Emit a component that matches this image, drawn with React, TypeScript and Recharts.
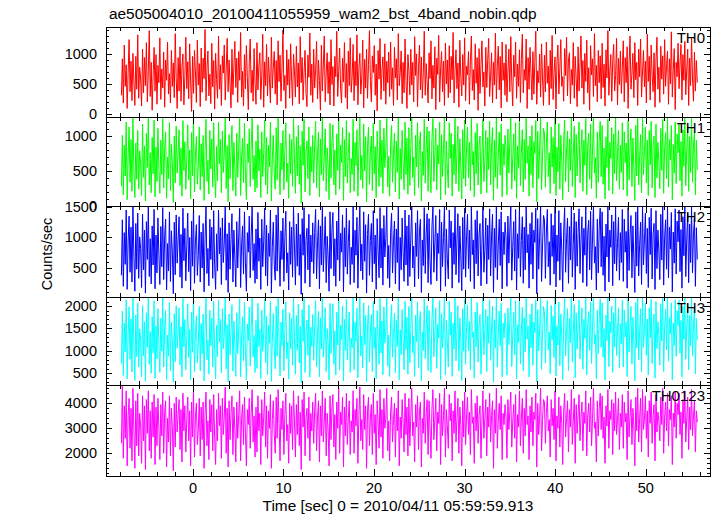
import { LineChart, Line, XAxis, YAxis } from "recharts";

const FONT = '"Liberation Sans", Arial, Helvetica, sans-serif';

const TITLE = "ae505004010_20100411055959_wam2_bst_4band_nobin.qdp";
const X_LABEL = "Time [sec] 0 = 2010/04/11 05:59:59.913";
const Y_LABEL = "Counts/sec";

// time span of the light curve (sec), bins evenly spaced
const T_FIRST = -7.9;
const T_LAST = 55.7;

const X_TICKS = [
  -8, -6, -4, -2, 0, 2, 4, 6, 8, 10, 12, 14, 16, 18, 20, 22, 24, 26, 28, 30, 32,
  34, 36, 38, 40, 42, 44, 46, 48, 50, 52, 54, 56,
];

const TH0 = [
  310, 920, 180, 1150, 460, 820, 90, 690, 1240, 370, 880, 220, 1010, 540, 140, 960, 410, 1320, 260, 780,
  600, 130, 1080, 350, 940, 470, 1190, 200, 720, 1390, 290, 860, 60, 640, 1110, 380, 990, 160, 810, 520,
  1270, 240, 750, 430, 1030, 110, 900, 560, 1200, 330, 670, 180, 1060, 460, 850, 270, 1340, 610, 90, 940,
  380, 1120, 210, 790, 1000, 150, 620, 1280, 420, 870, 250, 1170, 530, 40, 960, 340, 1060, 700, 190, 1230,
  480, 840, 120, 1100, 360, 930, 590, 1410, 220, 760, 1050, 300, 660, 170, 1180, 450, 890, 80, 1010, 570,
  260, 1300, 410, 820, 140, 970, 680, 1150, 230, 740, 1260, 370, 900, 500, 100, 1080, 320, 790, 1210, 440,
  930, 190, 1040, 560, 1360, 280, 710, 130, 990, 420, 1140, 610, 70, 860, 1250, 350, 730, 210, 1090, 520,
  160, 1190, 400, 800, 1020, 240, 650, 1330, 110, 870, 470, 1160, 300, 950, 580, 180, 1280, 430, 770, 1040,
  330, 890, 150, 1220, 540, 980, 210, 760, 1400, 390, 640, 90, 1070, 480, 910, 260, 1170, 600, 140, 1000,
  720, 280, 1130, 450, 850, 170, 1290, 520, 940, 230, 690, 1060, 360, 120, 980, 610, 1350, 310, 830, 190,
  1080, 430, 740, 1210, 250, 900, 560, 60, 1150, 380, 800, 1300, 200, 680, 1020, 340, 870, 150, 1240, 490,
  790, 130, 960, 620, 1380, 290, 710, 1100, 410, 180, 930, 530, 1190, 270, 840, 80, 1050, 470, 1270, 360,
  620, 1160, 220, 880, 470, 1320, 150, 750, 1010, 330, 600, 1230, 100, 910, 430, 1080, 260, 820, 1390, 540,
  200, 970, 690, 1140, 310, 830, 50, 1060, 580, 1260, 240, 730, 950, 380, 1170, 160, 880, 520, 1030, 290,
  1200, 410, 770, 140, 1110, 600, 920, 230, 1340, 470, 690, 1050, 170, 860, 350, 1250, 560, 90, 990, 720,
  320, 1080, 480, 860, 200, 1290, 640, 1000, 120, 770, 1150, 400, 950, 260, 680, 1380, 310, 840, 540, 180,
  1020, 590, 1220, 250, 810, 430, 1120, 70, 930, 660, 1310, 200, 750, 1040, 370, 880, 140, 1180, 500, 900,
  270, 1140, 350, 960, 570, 1360, 180, 710, 1070, 420, 850, 110, 1230, 620, 300, 990, 480, 1270, 220, 800,
  650, 1040, 160, 880, 1300, 390, 740, 230, 1170, 510, 940, 60, 1090, 340, 820, 1220, 450, 700, 130, 1110,
  440, 910, 1260, 290, 630, 1020, 180, 860, 480, 1350, 250, 790, 1130, 400, 960, 100, 1200, 560, 850, 310,
  1160, 200, 700, 1080, 370, 1290, 540, 130, 980, 620, 1200, 260, 830, 460, 1070, 190, 910, 1330, 350, 740,
  560, 1250, 90, 940, 410, 1110, 690, 230, 1040, 330, 880, 1380, 160, 720, 520, 1000, 280, 1170, 600, 140,
  980, 370, 1200, 510, 800, 150, 1060, 420, 1310, 240, 690, 950, 80, 870, 1150, 330, 760, 1240, 460, 620,
  210, 1090, 640, 1280, 300, 900, 1020, 170, 740, 480, 1190, 260, 960, 590, 120, 1120, 380, 830, 1300, 430,
  890, 160, 1010, 540, 1230, 350, 770, 60, 1140, 650, 920, 290, 1340, 470, 810, 200, 1060, 520, 970, 250,
  1180, 440, 830, 130, 1070, 600, 1390, 310, 720, 990, 210, 880, 1160, 380, 640, 1260, 150, 930, 490, 1050,
  340, 760, 1220, 200, 940, 520, 1120, 90, 830, 1300, 410, 680, 1010, 270, 1190, 570, 860, 140, 1080, 620,
  1250, 280, 700, 1060, 450, 880, 180, 1330, 540, 960, 230, 1150, 640, 370, 1020, 110, 900, 1280, 410, 780,
  190, 1130, 580, 970, 330, 1240, 460, 800, 1050, 160, 920, 500, 1370, 280, 740, 1090, 70, 860, 620, 1180,
  420, 850, 1160, 230, 990, 560, 1210, 320, 760, 1080, 140, 930, 470, 1270, 600, 210, 1030, 380, 890, 520,
];

const TH1 = [
  280, 1010, 160, 870, 430, 1200, 90, 720, 1130, 340, 950, 210, 1260, 500, 120, 900, 380, 1080, 240, 790,
  620, 150, 1170, 410, 860, 70, 1040, 550, 1270, 300, 760, 190, 980, 460, 1230, 130, 840, 350, 1110, 520,
  180, 940, 450, 1250, 260, 810, 1060, 110, 700, 390, 1190, 220, 880, 600, 50, 1000, 330, 1140, 470, 760,
  1090, 290, 830, 140, 1220, 510, 920, 240, 680, 1160, 370, 800, 100, 1050, 430, 1270, 200, 730, 990, 310,
  570, 1130, 230, 890, 420, 1010, 80, 770, 1240, 350, 650, 170, 1080, 530, 960, 270, 1190, 440, 120, 850,
  360, 1200, 600, 950, 190, 1070, 480, 740, 1270, 250, 860, 60, 1020, 390, 780, 1150, 220, 910, 540, 140,
  1040, 410, 820, 1250, 150, 700, 970, 330, 1180, 480, 90, 890, 620, 1100, 280, 830, 1270, 380, 720, 200,
  930, 260, 1160, 500, 810, 120, 1060, 420, 760, 1230, 300, 980, 170, 870, 560, 1200, 70, 690, 1010, 450,
  240, 1120, 370, 1270, 630, 160, 900, 520, 1080, 230, 810, 1190, 340, 610, 110, 1030, 460, 950, 280, 1250,
  700, 180, 990, 430, 1150, 310, 860, 40, 1070, 580, 1240, 200, 770, 930, 390, 1130, 150, 850, 490, 1010,
  330, 880, 1210, 260, 740, 1060, 130, 960, 450, 1270, 360, 690, 1100, 210, 830, 570, 90, 1180, 400, 920,
  1160, 300, 800, 160, 1030, 510, 1260, 240, 870, 620, 1120, 80, 950, 420, 1220, 330, 750, 1050, 190, 680,
  450, 1240, 210, 910, 580, 1090, 140, 820, 1270, 370, 720, 250, 1170, 500, 990, 60, 860, 1130, 310, 770,
  1000, 220, 1180, 460, 850, 120, 1070, 640, 280, 1230, 410, 940, 180, 1110, 550, 800, 1270, 270, 710, 140,
  880, 1150, 340, 760, 1040, 200, 930, 480, 1260, 100, 820, 380, 1080, 620, 230, 1200, 450, 970, 170, 1120,
  290, 830, 1270, 410, 700, 150, 1010, 560, 1190, 260, 900, 1060, 70, 780, 440, 1240, 330, 860, 1130, 210,
  1070, 500, 190, 960, 1250, 350, 740, 1110, 230, 870, 600, 1200, 90, 1020, 420, 810, 1270, 160, 930, 530,
  260, 1190, 680, 1040, 140, 880, 450, 1260, 320, 790, 1140, 210, 960, 570, 100, 1090, 390, 1230, 280, 840,
  1130, 400, 910, 220, 1270, 590, 780, 130, 1050, 460, 1180, 300, 870, 1000, 170, 730, 1240, 350, 640, 1080,
  190, 980, 520, 1210, 300, 850, 1120, 80, 940, 410, 1270, 250, 720, 1060, 440, 1170, 130, 890, 580, 1010,
  820, 160, 1100, 470, 930, 1260, 240, 680, 1030, 360, 1190, 110, 860, 540, 1230, 290, 770, 1090, 200, 950,
  380, 1270, 610, 860, 140, 1000, 450, 1150, 260, 920, 750, 1220, 60, 1070, 390, 830, 1260, 230, 700, 1110,
  1050, 270, 890, 1200, 420, 760, 180, 1130, 560, 980, 320, 1270, 150, 840, 490, 1180, 240, 1010, 640, 90,
  910, 1230, 350, 800, 1070, 200, 960, 510, 1260, 280, 730, 1140, 120, 1020, 430, 880, 1200, 330, 780, 1090,
  210, 940, 580, 1250, 160, 870, 1040, 380, 1170, 250, 800, 1270, 470, 690, 110, 1060, 340, 950, 1210, 420,
  1150, 310, 830, 100, 990, 550, 1240, 220, 910, 680, 1120, 170, 1030, 460, 1270, 360, 750, 1080, 240, 870,
  480, 1190, 230, 1060, 620, 900, 140, 1220, 370, 840, 1100, 280, 970, 530, 80, 1150, 430, 1260, 300, 720,
  1020, 190, 1270, 450, 780, 1130, 330, 940, 150, 1080, 590, 1210, 260, 860, 1000, 120, 1170, 400, 910, 630,
  250, 1110, 510, 1240, 180, 820, 1050, 390, 1270, 270, 950, 660, 1150, 90, 880, 470, 1200, 320, 1030, 760,
  1180, 360, 920, 140, 1090, 570, 1250, 290, 810, 1130, 210, 990, 480, 1270, 340, 860, 1060, 160, 940, 520,
];

const TH2 = [
  380, 1290, 200, 1080, 560, 1450, 150, 940, 1350, 430, 1170, 270, 1510, 690, 120, 1230, 480, 1400, 330, 1010,
  820, 180, 1380, 470, 1120, 90, 1260, 640, 1510, 360, 980, 240, 1190, 550, 1460, 160, 1040, 420, 1320, 700,
  230, 1180, 520, 1490, 310, 1030, 1300, 140, 900, 450, 1420, 280, 1110, 760, 80, 1250, 390, 1370, 580, 960,
  1340, 350, 1050, 170, 1480, 620, 1150, 290, 870, 1400, 440, 1000, 130, 1270, 530, 1510, 250, 930, 1210, 380,
  700, 1360, 270, 1090, 500, 1230, 110, 980, 1500, 410, 820, 210, 1300, 640, 1170, 330, 1440, 540, 150, 1060,
  450, 1450, 730, 1160, 230, 1320, 590, 910, 1510, 300, 1060, 100, 1240, 480, 970, 1390, 270, 1120, 650, 190,
  1260, 500, 1010, 1480, 180, 880, 1190, 400, 1420, 580, 120, 1080, 760, 1350, 340, 1030, 1510, 460, 900, 250,
  1140, 320, 1410, 610, 990, 150, 1300, 520, 940, 1480, 370, 1200, 210, 1070, 690, 1450, 90, 850, 1250, 550,
  300, 1370, 450, 1510, 780, 200, 1110, 640, 1320, 280, 1000, 1430, 420, 750, 140, 1260, 560, 1170, 350, 1500,
  860, 220, 1220, 530, 1400, 380, 1050, 70, 1310, 710, 1490, 250, 950, 1150, 470, 1380, 190, 1040, 600, 1240,
  410, 1080, 1460, 320, 910, 1290, 160, 1190, 550, 1510, 440, 850, 1340, 260, 1020, 700, 120, 1420, 490, 1130,
  1410, 370, 980, 200, 1270, 630, 1500, 290, 1070, 760, 1370, 110, 1160, 520, 1480, 400, 920, 1280, 230, 840,
  560, 1500, 260, 1120, 710, 1330, 170, 1010, 1510, 450, 890, 310, 1420, 610, 1210, 90, 1050, 1380, 380, 950,
  1230, 270, 1440, 570, 1040, 150, 1310, 790, 340, 1490, 500, 1150, 220, 1360, 680, 980, 1510, 330, 870, 180,
  1080, 1400, 420, 930, 1270, 240, 1140, 590, 1510, 130, 1000, 470, 1320, 760, 280, 1450, 550, 1190, 210, 1370,
  360, 1020, 1510, 500, 860, 190, 1240, 690, 1440, 320, 1110, 1300, 100, 960, 540, 1490, 410, 1060, 1390, 260,
  1310, 620, 230, 1180, 1500, 430, 910, 1360, 290, 1070, 740, 1460, 120, 1250, 520, 1000, 1510, 200, 1140, 650,
  320, 1450, 830, 1270, 170, 1080, 560, 1510, 390, 970, 1390, 260, 1190, 700, 130, 1330, 480, 1480, 350, 1030,
  1380, 490, 1120, 280, 1510, 720, 960, 160, 1290, 570, 1440, 370, 1060, 1230, 210, 900, 1500, 430, 790, 1320,
  240, 1200, 640, 1470, 370, 1040, 1380, 100, 1150, 510, 1510, 310, 890, 1300, 540, 1420, 160, 1090, 720, 1250,
  1010, 200, 1350, 580, 1140, 1500, 300, 840, 1260, 450, 1460, 140, 1060, 660, 1490, 360, 950, 1340, 250, 1170,
  470, 1510, 750, 1050, 170, 1230, 560, 1410, 320, 1120, 920, 1480, 80, 1310, 480, 1020, 1500, 280, 860, 1360,
  1290, 330, 1090, 1460, 520, 930, 220, 1390, 690, 1200, 400, 1510, 190, 1040, 610, 1440, 300, 1240, 790, 110,
  1110, 1490, 430, 980, 1320, 250, 1180, 630, 1510, 350, 900, 1400, 150, 1260, 530, 1080, 1470, 410, 960, 1340,
  260, 1150, 710, 1500, 200, 1070, 1280, 470, 1430, 310, 990, 1510, 580, 850, 140, 1300, 420, 1170, 1480, 520,
  1420, 380, 1020, 120, 1220, 680, 1510, 270, 1120, 840, 1370, 210, 1260, 570, 1500, 450, 920, 1330, 300, 1080,
  590, 1460, 280, 1300, 760, 1100, 170, 1490, 460, 1030, 1360, 340, 1190, 650, 100, 1420, 530, 1510, 370, 890,
  1250, 230, 1510, 550, 960, 1400, 410, 1150, 180, 1330, 720, 1480, 320, 1060, 1230, 150, 1440, 490, 1120, 780,
  310, 1380, 630, 1510, 220, 1010, 1290, 480, 1500, 340, 1170, 810, 1410, 110, 1090, 580, 1470, 400, 1270, 930,
  1450, 440, 1130, 170, 1340, 700, 1510, 360, 990, 1390, 260, 1220, 590, 1500, 420, 1060, 1310, 200, 1160, 640,
];

const TH3 = [
  720, 1890, 450, 1620, 980, 2140, 380, 1370, 1980, 810, 1710, 530, 2200, 1100, 340, 1800, 870, 2060, 640, 1490,
  1250, 420, 2010, 890, 1650, 320, 1850, 1080, 2200, 700, 1430, 500, 1760, 960, 2120, 390, 1560, 820, 1940, 1150,
  520, 1730, 990, 2180, 640, 1520, 1900, 360, 1350, 880, 2080, 560, 1640, 1200, 300, 1830, 760, 2010, 1060, 1420,
  1960, 690, 1540, 420, 2170, 1090, 1700, 580, 1290, 2050, 850, 1480, 350, 1860, 970, 2200, 530, 1380, 1780, 740,
  1160, 1990, 560, 1610, 930, 1820, 330, 1450, 2190, 800, 1240, 480, 1900, 1110, 1730, 640, 2100, 1000, 380, 1570,
  870, 2130, 1200, 1700, 510, 1940, 1050, 1360, 2200, 600, 1580, 310, 1820, 920, 1440, 2030, 550, 1660, 1120, 430,
  1850, 940, 1480, 2160, 420, 1310, 1760, 780, 2080, 1030, 350, 1600, 1230, 1980, 660, 1520, 2200, 860, 1340, 520,
  1680, 610, 2060, 1100, 1470, 380, 1910, 990, 1390, 2150, 740, 1770, 470, 1570, 1170, 2110, 320, 1280, 1830, 1020,
  600, 2000, 880, 2200, 1260, 440, 1640, 1120, 1930, 560, 1490, 2090, 830, 1190, 370, 1850, 1050, 1720, 680, 2180,
  1320, 480, 1790, 1010, 2040, 730, 1550, 290, 1920, 1210, 2170, 520, 1400, 1690, 900, 2020, 410, 1530, 1100, 1810,
  790, 1580, 2120, 650, 1370, 1880, 420, 1740, 1040, 2200, 860, 1290, 1960, 540, 1500, 1180, 350, 2060, 940, 1650,
  2050, 700, 1450, 460, 1860, 1130, 2190, 570, 1570, 1250, 2000, 330, 1700, 1010, 2150, 800, 1380, 1870, 520, 1280,
  1070, 2180, 580, 1640, 1210, 1950, 400, 1480, 2200, 890, 1330, 620, 2070, 1140, 1790, 310, 1560, 2010, 760, 1420,
  1810, 540, 2100, 1060, 1520, 380, 1900, 1290, 700, 2170, 950, 1670, 470, 1980, 1170, 1440, 2200, 660, 1350, 430,
  1600, 2030, 860, 1390, 1840, 510, 1680, 1100, 2200, 360, 1470, 920, 1920, 1250, 580, 2110, 1030, 1750, 480, 1990,
  740, 1500, 2200, 960, 1330, 430, 1800, 1200, 2090, 620, 1640, 1880, 330, 1420, 1010, 2160, 830, 1550, 2010, 560,
  1900, 1140, 520, 1720, 2180, 870, 1400, 1960, 610, 1590, 1290, 2120, 360, 1830, 1060, 1480, 2200, 470, 1680, 1210,
  640, 2110, 1350, 1860, 430, 1620, 1040, 2200, 780, 1450, 2010, 550, 1730, 1260, 340, 1940, 990, 2150, 700, 1530,
  2020, 1000, 1660, 580, 2200, 1300, 1420, 390, 1870, 1090, 2080, 750, 1570, 1810, 480, 1360, 2190, 910, 1480, 1920,
  540, 1770, 1170, 2140, 790, 1510, 2000, 300, 1690, 1060, 2200, 640, 1380, 1890, 1110, 2060, 420, 1620, 1290, 1840,
  1490, 460, 1950, 1140, 1700, 2180, 650, 1330, 1860, 920, 2120, 380, 1580, 1190, 2170, 710, 1430, 1970, 560, 1740,
  980, 2200, 1260, 1550, 420, 1820, 1070, 2050, 680, 1640, 1410, 2140, 310, 1920, 1000, 1500, 2200, 590, 1350, 1990,
  1880, 730, 1610, 2120, 1020, 1420, 490, 2010, 1250, 1780, 850, 2200, 440, 1560, 1130, 2090, 670, 1820, 1330, 360,
  1680, 2170, 890, 1470, 1940, 560, 1730, 1180, 2200, 760, 1390, 2030, 400, 1850, 1040, 1600, 2130, 820, 1450, 1960,
  590, 1700, 1280, 2190, 470, 1590, 1880, 1010, 2090, 720, 1520, 2200, 1150, 1360, 380, 1910, 940, 1740, 2150, 1080,
  2070, 860, 1500, 350, 1800, 1230, 2200, 650, 1660, 1400, 2000, 520, 1850, 1090, 2180, 900, 1450, 1960, 620, 1610,
  1160, 2130, 640, 1910, 1310, 1640, 430, 2170, 970, 1560, 1990, 710, 1750, 1200, 330, 2080, 1070, 2200, 800, 1470,
  1940, 530, 2200, 1080, 1480, 2060, 900, 1710, 460, 1960, 1290, 2150, 720, 1580, 1820, 390, 2100, 1050, 1650, 1340,
  680, 2050, 1220, 2200, 540, 1530, 1930, 1020, 2180, 770, 1740, 1380, 2070, 350, 1620, 1120, 2140, 880, 1890, 1560,
  2120, 950, 1680, 420, 1990, 1260, 2200, 810, 1510, 2040, 580, 1790, 1110, 2190, 890, 1590, 1950, 490, 1720, 1240,
];

const TH0123 = [
  2400, 4700, 1800, 3900, 2600, 4500, 1500, 3500, 4200, 2200, 3800, 1700, 4600, 2900, 1400, 4100, 2300, 4400, 1900, 3600,
  3100, 1600, 4300, 2500, 3900, 1350, 4150, 2800, 4500, 2100, 3700, 1800, 4050, 2650, 4350, 1550, 3850, 2300, 4200, 3000,
  1750, 3950, 2700, 4450, 2000, 3650, 4100, 1450, 3400, 2450, 4300, 1900, 3800, 3050, 1300, 4000, 2250, 4250, 2850, 3550,
  4150, 2150, 3750, 1650, 4400, 2900, 3900, 2050, 3350, 4250, 2500, 3700, 1500, 4050, 2650, 4500, 1850, 3450, 4000, 2350,
  2950, 4200, 1900, 3850, 2550, 4050, 1400, 3600, 4450, 2300, 3300, 1750, 4150, 2850, 3950, 2100, 4350, 2600, 1550, 3750,
  2500, 4400, 3100, 3900, 1800, 4200, 2750, 3450, 4650, 2000, 3800, 1450, 4100, 2550, 3600, 4300, 1950, 3850, 2950, 1650,
  4050, 2600, 3550, 4500, 1700, 3400, 3950, 2350, 4250, 2800, 1500, 3750, 3150, 4200, 2200, 3650, 4550, 2450, 3500, 1850,
  3850, 2050, 4300, 2900, 3600, 1550, 4150, 2700, 3450, 4450, 2250, 3900, 1800, 3700, 3000, 4350, 1400, 3350, 4100, 2750,
  2000, 4250, 2600, 4550, 3200, 1700, 3800, 2950, 4100, 1950, 3550, 4400, 2500, 3150, 1600, 4000, 2800, 3900, 2150, 4500,
  3300, 1850, 3950, 2750, 4300, 2300, 3650, 1350, 4150, 3050, 4450, 1900, 3400, 3800, 2600, 4250, 1700, 3600, 2900, 4050,
  2400, 3700, 4400, 2100, 3450, 4100, 1650, 3900, 2700, 4500, 2450, 3250, 4200, 1900, 3600, 2950, 1500, 4300, 2550, 3800,
  4350, 2250, 3550, 1750, 4050, 3000, 4600, 2000, 3650, 3150, 4250, 1450, 3850, 2700, 4400, 2350, 3400, 4100, 1950, 3300,
  2850, 4500, 2000, 3750, 3100, 4200, 1600, 3500, 4650, 2500, 3350, 2150, 4350, 2950, 3900, 1400, 3700, 4250, 2300, 3450,
  3950, 1950, 4400, 2800, 3550, 1550, 4100, 3250, 2200, 4550, 2650, 3750, 1800, 4200, 3000, 3400, 4600, 2100, 3300, 1700,
  3650, 4250, 2450, 3350, 4000, 1850, 3800, 2900, 4500, 1500, 3450, 2600, 4150, 3200, 2050, 4400, 2750, 3850, 1900, 4200,
  2300, 3500, 4600, 2700, 3250, 1650, 3950, 3050, 4300, 2150, 3700, 4050, 1450, 3400, 2800, 4450, 2400, 3600, 4150, 1950,
  4100, 3000, 1800, 3800, 4550, 2550, 3350, 4200, 2100, 3650, 3200, 4400, 1550, 3950, 2700, 3500, 4600, 1850, 3750, 3100,
  2200, 4350, 3300, 4000, 1700, 3700, 2800, 4500, 2450, 3400, 4200, 2000, 3850, 3150, 1500, 4100, 2650, 4450, 2350, 3550,
  4250, 2750, 3650, 1950, 4550, 3200, 3450, 1600, 4000, 2900, 4300, 2400, 3550, 3900, 1800, 3300, 4500, 2600, 3400, 4150,
  1900, 3850, 3050, 4400, 2450, 3500, 4100, 1400, 3750, 2800, 4600, 2200, 3300, 4000, 2950, 4300, 1750, 3600, 3150, 3950,
  3450, 1800, 4150, 2950, 3700, 4450, 2250, 3250, 3950, 2600, 4350, 1650, 3550, 3050, 4500, 2300, 3400, 4200, 2000, 3800,
  2700, 4550, 3150, 3500, 1750, 3900, 2850, 4250, 2300, 3650, 3350, 4400, 1450, 4000, 2750, 3450, 4600, 2100, 3300, 4150,
  4050, 2400, 3600, 4300, 2900, 3350, 1850, 4150, 3100, 3800, 2550, 4500, 1700, 3500, 3000, 4250, 2250, 3900, 3200, 1550,
  3700, 4400, 2650, 3400, 4100, 2050, 3750, 3050, 4550, 2350, 3300, 4200, 1600, 3950, 2800, 3550, 4350, 2500, 3450, 4050,
  2100, 3650, 3200, 4500, 1900, 3500, 4000, 2850, 4250, 2300, 3400, 4600, 3000, 3250, 1650, 4100, 2700, 3800, 4400, 2950,
  4300, 2600, 3450, 1600, 3900, 3100, 4550, 2200, 3700, 3350, 4150, 1950, 4000, 2900, 4450, 2750, 3350, 4200, 2150, 3600,
  3050, 4350, 2200, 4050, 3250, 3600, 1750, 4500, 2650, 3450, 4150, 2350, 3800, 3100, 1500, 4250, 2900, 4600, 2450, 3400,
  4200, 2050, 4550, 2950, 3350, 4300, 2600, 3700, 1850, 4100, 3200, 4450, 2400, 3500, 3950, 1700, 4350, 2850, 3650, 3300,
  2500, 4250, 3150, 4600, 2000, 3450, 4050, 2900, 4400, 2300, 3750, 3350, 4300, 1550, 3600, 3050, 4450, 2600, 4000, 3550,
  4400, 2750, 3650, 1800, 4150, 3200, 4500, 2450, 3400, 4250, 2150, 3850, 2950, 4550, 2700, 3500, 4100, 2050, 3700, 3250,
];

const SERIES = [TH0, TH1, TH2, TH3, TH0123];
const NAMES = ["TH0", "TH1", "TH2", "TH3", "TH0123"];
const COLORS = ["#ff0000", "#00ff00", "#0000ff", "#00ffff", "#ff00ff"];
const Y_DOMAINS: [number, number][] = [
  [-53, 1451],
  [0, 1272],
  [25, 1516],
  [239, 2201],
  [1092, 4733],
];
const Y_MAJOR = [500, 500, 500, 500, 1000];
const Y_MINOR = [100, 100, 100, 100, 200];

// layout (px)
const W = 717;
const H = 516;
const PLOT_LEFT = 106;
const PLOT_RIGHT = 710;
const PANEL_TOPS = [27, 117, 206, 297, 385];
const PLOT_BOTTOM = 476;
const PAD = 4;

function yTicksFor(i: number) {
  const [lo, hi] = Y_DOMAINS[i];
  const step = Y_MINOR[i];
  const out: number[] = [];
  for (let v = Math.ceil(lo / step) * step; v <= hi; v += step) out.push(v);
  return out;
}

function toRows(values: number[]) {
  const dt = (T_LAST - T_FIRST) / (values.length - 1);
  return values.map((v, i) => ({ t: T_FIRST + i * dt, v }));
}

const crisp = (n: number) => Math.round(n) + 0.5;

const makeYTick =
  (side: "left" | "right", major: number, labels: boolean) => (props: any) => {
    const { x, y, payload } = props;
    const v = payload.value;
    const isMajor = Math.abs(v % major) < 1e-6;
    const len = isMajor ? 6 : 3;
    const d = side === "left" ? 1 : -1;
    const yy = crisp(y);
    return (
      <g>
        <line x1={x} x2={x + d * len} y1={yy} y2={yy} stroke="#000" />
        {labels && isMajor ? (
          <text
            x={x - 9}
            y={y + 5}
            textAnchor="end"
            fontSize={14.5}
            fontFamily={FONT}
            fill="#000"
          >
            {v}
          </text>
        ) : null}
      </g>
    );
  };

const makeXTick = (side: "top" | "bottom", labels: boolean) => (props: any) => {
  const { x, y, payload } = props;
  const v = payload.value;
  const isMajor = v % 10 === 0;
  const len = isMajor ? 7 : 4;
  const d = side === "bottom" ? -1 : 1;
  const xx = crisp(x);
  return (
    <g>
      <line x1={xx} x2={xx} y1={y} y2={y + d * len} stroke="#000" />
      {labels && isMajor ? (
        <text
          x={x}
          y={y + 17}
          textAnchor="middle"
          fontSize={14.5}
          fontFamily={FONT}
          fill="#000"
        >
          {v}
        </text>
      ) : null}
    </g>
  );
};

function Panel({ i }: { i: number }) {
  const top = PANEL_TOPS[i];
  const bottom = i < 4 ? PANEL_TOPS[i + 1] : PLOT_BOTTOM;
  const last = i === 4;
  const xAxisH = last ? 40 : 1;
  const height = PAD + (bottom - top) + (last ? xAxisH : PAD);
  return (
    <div style={{ position: "absolute", left: 0, top: top - PAD }}>
      <LineChart
        width={W}
        height={height}
        data={toRows(SERIES[i])}
        margin={{ top: PAD - 1, right: 0, bottom: last ? 0 : PAD - 1, left: 0 }}
      >
        <XAxis
          xAxisId="b"
          dataKey="t"
          type="number"
          domain={[-9.6, 57.1]}
          allowDataOverflow
          ticks={X_TICKS}
          interval={0}
          height={xAxisH}
          tickSize={0}
          tickMargin={0}
          tickLine={false}
          axisLine={false}
          tick={makeXTick("bottom", last)}
        />
        <XAxis
          xAxisId="t"
          orientation="top"
          dataKey="t"
          type="number"
          domain={[-9.6, 57.1]}
          allowDataOverflow
          ticks={X_TICKS}
          interval={0}
          height={1}
          tickSize={0}
          tickMargin={0}
          tickLine={false}
          axisLine={false}
          tick={makeXTick("top", false)}
        />
        <YAxis
          yAxisId="l"
          domain={Y_DOMAINS[i]}
          allowDataOverflow
          ticks={yTicksFor(i)}
          interval={0}
          width={PLOT_LEFT}
          tickSize={0}
          tickMargin={0}
          tickLine={false}
          axisLine={false}
          tick={makeYTick("left", Y_MAJOR[i], true)}
        />
        <YAxis
          yAxisId="r"
          orientation="right"
          domain={Y_DOMAINS[i]}
          allowDataOverflow
          ticks={yTicksFor(i)}
          interval={0}
          width={W - PLOT_RIGHT}
          tickSize={0}
          tickMargin={0}
          tickLine={false}
          axisLine={false}
          tick={makeYTick("right", Y_MAJOR[i], false)}
        />
        <Line
          xAxisId="b"
          yAxisId="l"
          type="linear"
          dataKey="v"
          stroke={COLORS[i]}
          strokeWidth={1}
          dot={false}
          activeDot={false}
          isAnimationActive={false}
        />
      </LineChart>
    </div>
  );
}

export default function App() {
  return (
    <div
      style={{
        position: "absolute",
        left: 0,
        top: 0,
        width: W,
        height: H,
        background: "#fff",
        overflow: "hidden",
      }}
    >
      {SERIES.map((_, i) => (
        <Panel key={NAMES[i]} i={i} />
      ))}
      <svg
        width={W}
        height={H}
        style={{ position: "absolute", left: 0, top: 0, pointerEvents: "none" }}
        fontFamily={FONT}
        fill="#000"
      >
        {PANEL_TOPS.map((t, i) => {
          const b = i < 4 ? PANEL_TOPS[i + 1] : PLOT_BOTTOM;
          return (
            <rect
              key={"f" + i}
              x={PLOT_LEFT + 0.5}
              y={t + 0.5}
              width={PLOT_RIGHT - PLOT_LEFT}
              height={b - t}
              fill="none"
              stroke="#000"
              strokeWidth={1}
            />
          );
        })}
        <text x={109} y={19} fontSize={15.4}>
          {TITLE}
        </text>
        {NAMES.map((n, i) => (
          <text key={n} x={705} y={PANEL_TOPS[i] + 16} textAnchor="end" fontSize={15}>
            {n}
          </text>
        ))}
        <text
          x={47}
          y={254}
          textAnchor="middle"
          dy={5}
          fontSize={14.5}
          transform="rotate(-90 47 254)"
        >
          {Y_LABEL}
        </text>
        <text x={398} y={511} textAnchor="middle" fontSize={15.4}>
          {X_LABEL}
        </text>
      </svg>
    </div>
  );
}
